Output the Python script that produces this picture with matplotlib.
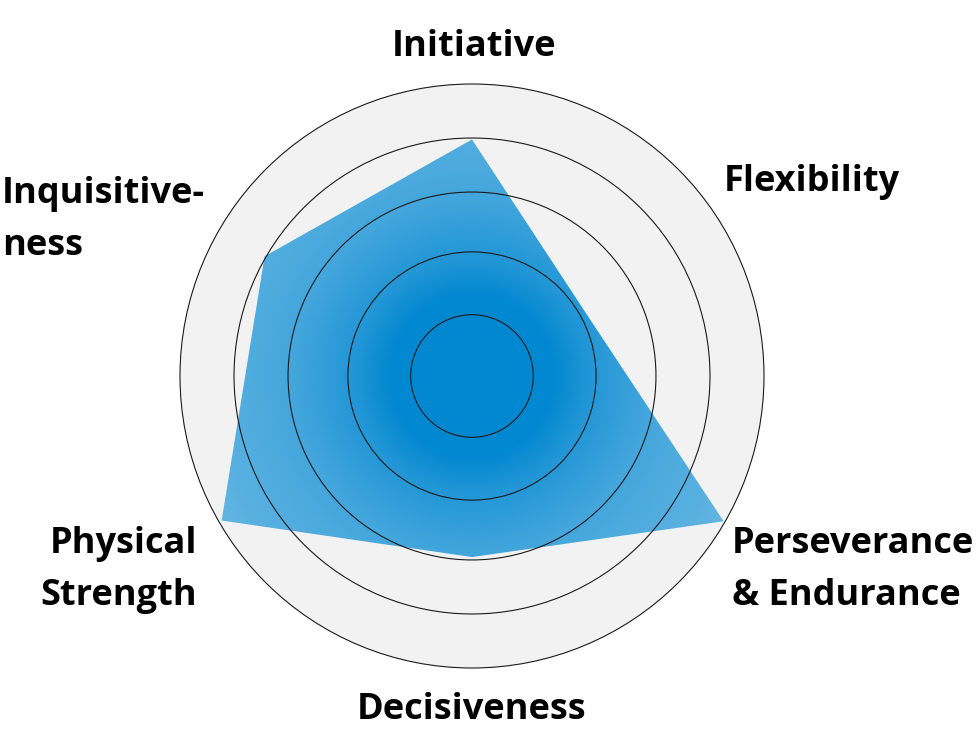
import numpy as np
import matplotlib.pyplot as plt
from matplotlib.patches import Circle, Polygon
from matplotlib.colors import LinearSegmentedColormap

# radar data (0-100 scale, outer ring = 100)
categories = ["Initiative", "Flexibility", "Perseverance\n& Endurance",
              "Decisiveness", "Physical\nStrength", "Inquisitive-\nness"]
scores = [81, 44.5, 99.5, 62, 99, 82]
ring_levels = [21, 42.5, 63, 81.5, 100]
max_score = 100

# layout in pixels
cx, cy, R = 472, 376, 292
label_pos = [(474, 56, 'center'), (724, 191, 'left'), (732, 553, 'left'),
             (472, 719, 'center'), (197, 553, 'right'), (2, 203, 'left')]
line_gap = 52

plt.rcParams['font.family'] = ['Open Sans', 'DejaVu Sans']

fig = plt.figure(figsize=(9.78, 7.51), dpi=100)
ax = fig.add_axes([0, 0, 1, 1])

# grey disc behind everything
ax.add_patch(Circle((cx, cy), R, facecolor='#f2f2f2', edgecolor='none', zorder=1))

angles = np.deg2rad(np.arange(len(categories)) * 360 / len(categories))
rad = np.array(scores) / max_score * R
xs = cx + rad * np.sin(angles)
ys = cy - rad * np.cos(angles)

# radial gradient fill clipped to the polygon
n = 700
g = np.linspace(-1, 1, n)
gx, gy = np.meshgrid(g, g)
rr = np.clip(np.hypot(gx, gy), 0, 1)
cmap = LinearSegmentedColormap.from_list('fill', [(0, '#0288d1'), (0.28, '#0288d1'),
                                                  (0.40, '#2196d6'), (0.62, '#44a6dc'),
                                                  (1.0, '#62b5e2')])
im = ax.imshow(rr, cmap=cmap, vmin=0, vmax=1, interpolation='bilinear',
               extent=(cx - R, cx + R, cy + R, cy - R), zorder=2)
poly = Polygon(np.column_stack([xs, ys]), closed=True, facecolor='none',
               edgecolor='none')
ax.add_patch(poly)
im.set_clip_path(poly)

# rings
for lv in ring_levels:
    ax.add_patch(Circle((cx, cy), lv / max_score * R, facecolor='none',
                        edgecolor='#1a1a1a', lw=0.8, zorder=3))

# labels
for lab, (tx, ty, ha) in zip(categories, label_pos):
    for i, line in enumerate(lab.split('\n')):
        ax.text(tx, ty + i * line_gap, line, ha=ha, va='baseline',
                fontsize=26, fontweight='bold', color='black')

ax.set_xlim(0, 978)
ax.set_ylim(751, 0)
ax.set_aspect('auto')
ax.axis('off')

fig.savefig('out.png', dpi=100)
